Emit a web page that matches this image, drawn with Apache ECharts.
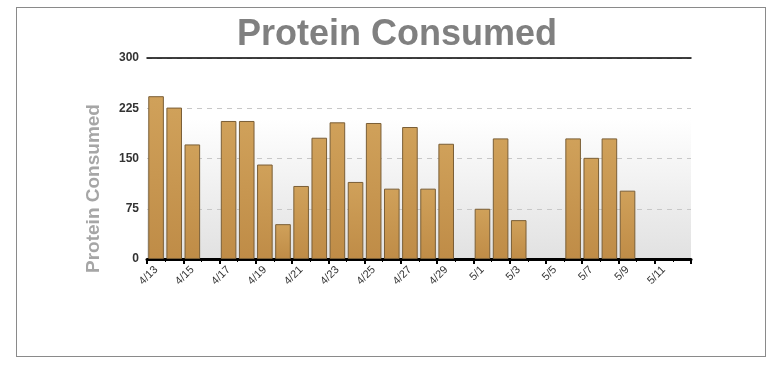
<!DOCTYPE html>
<html>
<head>
<meta charset="utf-8">
<script src="https://cdn.jsdelivr.net/npm/echarts@6/dist/echarts.min.js"></script>
<style>
html,body{margin:0;padding:0;background:#fff;}
#frame{position:absolute;left:16px;top:7px;width:750px;height:350px;border:1px solid #8a8a8a;box-sizing:border-box;}
#c{position:absolute;left:0;top:0;width:776px;height:366px;}
</style>
</head>
<body>
<div id="frame"></div>
<div id="c"></div>
<script>
var categories = ['4/13','4/14','4/15','4/16','4/17','4/18','4/19','4/20','4/21','4/22','4/23','4/24','4/25','4/26','4/27','4/28','4/29','4/30','5/1','5/2','5/3','5/4','5/5','5/6','5/7','5/8','5/9','5/10','5/11','5/12'];
var protein = [243,226,171,null,206,206,141,52,109,181,204,115,203,105,197,105,172,null,75,180,58,null,null,180,151,180,102,null,null,null];
var yTicks = [0,75,150,225,300];

var chart = echarts.init(document.getElementById('c'), null, {renderer:'canvas'});
var font = 'Liberation Sans, Arial, sans-serif';
chart.setOption({
  animation:false,
  title:{text:'Protein Consumed',left:232,top:12,textStyle:{fontFamily:font,fontSize:36,fontWeight:'bold',color:'#808080'}},
  grid:[
    {left:147,right:85,top:58,bottom:107,show:true,borderWidth:0,
     backgroundColor:{type:'linear',x:0,y:0,x2:0,y2:1,colorStops:[{offset:0,color:'#ffffff'},{offset:0.3,color:'#ffffff'},{offset:1,color:'#e1e1e1'}]}},
    {left:147,right:85,top:58,bottom:107}
  ],
  xAxis:[
    {type:'category',data:categories,gridIndex:0,position:'bottom',
     axisLine:{show:true,lineStyle:{color:'#000',width:3}},
     axisTick:{show:true,interval:0,length:3,lineStyle:{color:'#000',width:1}},
     axisLabel:{interval:1,rotate:45,fontFamily:font,fontSize:11,color:'#333',margin:9},
     splitLine:{show:false}},
    {type:'category',data:categories,gridIndex:0,position:'top',
     axisLine:{show:true,lineStyle:{color:'#000',width:1.5}},
     axisTick:{show:false},axisLabel:{show:false},splitLine:{show:false}},
    {type:'category',data:categories,gridIndex:1,position:'bottom',
     axisLine:{show:false},
     axisTick:{show:true,interval:1,length:5,lineStyle:{color:'#000',width:2}},
     axisLabel:{show:false},splitLine:{show:false}}
  ],
  yAxis:[
    {type:'value',gridIndex:0,min:0,max:300,interval:75,
     name:'Protein Consumed',nameLocation:'middle',nameGap:44,
     nameTextStyle:{fontFamily:font,fontSize:19,fontWeight:'bold',color:'#a6a6a6',padding:[0,60,0,0]},
     axisLine:{show:false},axisTick:{show:false},
     axisLabel:{fontFamily:font,fontSize:12,fontWeight:'bold',color:'#333',margin:8,
       formatter:function(v){return yTicks.indexOf(v)>=0?String(v):'';}},
     splitLine:{show:true,lineStyle:{color:'#c8c8c8',type:[5,5],width:1}}},
    {type:'value',gridIndex:1,min:0,max:300,interval:75,show:false}
  ],
  series:[{
    type:'bar',xAxisIndex:0,yAxisIndex:0,data:protein,barWidth:'86%',
    itemStyle:{color:{type:'linear',x:0,y:0,x2:0,y2:1,colorStops:[{offset:0,color:'#d0a15a'},{offset:1,color:'#bf8c47'}]},
      borderColor:'#7a5e36',borderWidth:1}
  }]
});
</script>
</body>
</html>
